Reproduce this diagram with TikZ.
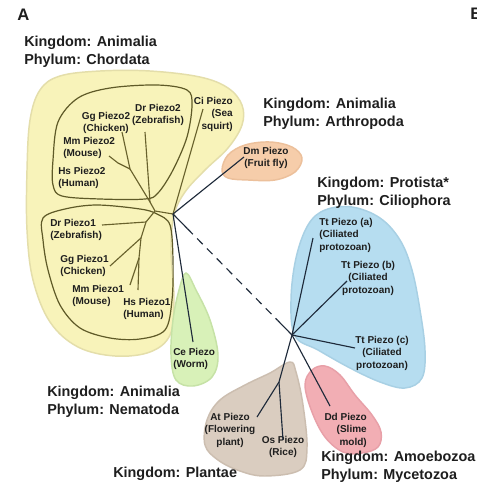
\documentclass[tikz,border=0pt]{standalone}
\usepackage{fontspec}
\setmainfont{Liberation Sans}
\usetikzlibrary{calc}
\definecolor{txt}{RGB}{30,30,30}
\definecolor{yfill}{RGB}{248,243,186}
\definecolor{yline}{RGB}{228,222,170}
\definecolor{loopc}{RGB}{95,90,40}
\definecolor{olivec}{RGB}{105,98,45}
\definecolor{treec}{RGB}{30,42,58}
\definecolor{ofill}{RGB}{246,205,170}
\definecolor{oline}{RGB}{236,192,155}
\definecolor{bfill}{RGB}{182,221,240}
\definecolor{bline}{RGB}{168,208,228}
\definecolor{gfill}{RGB}{216,241,184}
\definecolor{gline}{RGB}{198,226,166}
\definecolor{pfill}{RGB}{242,174,180}
\definecolor{pline}{RGB}{232,160,168}
\definecolor{tfill}{RGB}{218,205,192}
\definecolor{tline}{RGB}{204,190,176}
\begin{document}
\begin{tikzpicture}[x=0.75pt,y=-0.75pt,
  big/.style={font=\fontsize{10.8}{13.3}\selectfont\bfseries, text=txt, inner sep=0pt, align=left, anchor=north west},
  lab/.style={font=\fontsize{7.5}{9.2}\selectfont\bfseries, text=txt, inner sep=0pt},
  panel/.style={font=\fontsize{12.5}{15}\selectfont\bfseries, text=txt, inner sep=0pt, anchor=north west},
  region/.style={line width=1.1pt},
  loopline/.style={draw=loopc, line width=0.9pt},
  oln/.style={draw=olivec, line width=0.85pt},
  tln/.style={draw=treec, line width=0.85pt},
]
\useasboundingbox (0,0) rectangle (476,493);
\fill[white] (0,0) rectangle (476,493);

% ---------- regions ----------
\draw[region, draw=yline, fill=yfill] plot[smooth cycle, tension=0.6] coordinates {
 (30,120) (40,90) (60,76) (100,71) (150,71) (200,77) (228,88) (242,105) (242,125)
 (228,148) (205,170) (185,192) (174,215) (171,250) (174,300) (170,335) (150,352)
 (115,356) (78,347) (50,322) (33,280) (27,230) (27,170)};
\draw[region, draw=gline, fill=gfill] plot[smooth cycle, tension=0.6] coordinates {
 (186,273) (196,290) (210,320) (218,355) (212,377) (193,386) (176,380) (171,355) (173,320) (179,290)};
\draw[region, draw=oline, fill=ofill] plot[smooth cycle, tension=0.6] coordinates {
 (222,170) (228,155) (245,145) (270,142) (292,147) (302,158) (295,172) (275,180) (248,180) (228,178)};
\draw[region, draw=bline, fill=bfill] plot[smooth cycle, tension=0.6] coordinates {
 (295,336) (291,300) (296,258) (308,225) (325,210) (352,207) (380,218) (400,240) (412,270)
 (420,310) (425,350) (422,378) (405,388) (380,382) (350,368) (318,350)};
\draw[region, draw=pline, fill=pfill] plot[smooth cycle, tension=0.6] coordinates {
 (305,385) (312,370) (325,366) (340,375) (355,395) (372,415) (381,432) (378,447) (362,453) (343,452) (325,437) (312,412)};
\draw[region, draw=tline, fill=tfill] plot[smooth cycle, tension=0.6] coordinates {
 (290,362) (296,372) (303,405) (307,448) (300,470) (265,476) (240,471) (218,460) (205,445) (207,420) (220,400) (245,385) (270,373)};

% inner loops (Piezo2 / Piezo1)
\draw[loopline] plot[smooth cycle, tension=0.55] coordinates {
 (53,160) (58,122) (78,98) (110,88) (157,85) (187,90) (192,105) (187,137) (173,170) (158,193) (145,199) (100,199) (62,196) (53,185)};
\draw[loopline] plot[smooth cycle, tension=0.55] coordinates {
 (43,218) (65,209) (97,205) (140,209) (157,214) (170,225) (173,260) (172,300) (165,330) (140,339) (110,338) (80,328) (60,305) (48,270) (43,240)};

% ---------- labels ----------
\node[panel] (pA) at (17,9) {A};
\node[panel] (pB) at (470,8) {B};
\node[big] (chord) at (24,36) {Kingdom: Animalia\\Phylum: Chordata};
\node[big] (arth) at (263,98) {Kingdom: Animalia\\Phylum: Arthropoda};
\node[big] (prot) at (317,177) {Kingdom: Protista*\\Phylum: Ciliophora};
\node[big] (nema) at (47,386) {Kingdom: Animalia\\Phylum: Nematoda};
\node[big] (plan) at (113,467) {Kingdom: Plantae};
\node[big] (amoe) at (321,451) {Kingdom: Amoebozoa\\Phylum: Mycetozoa};

\node[lab, anchor=north, align=center] (ldrtwo) at (158,104) {Dr Piezo2\\(Zebrafish)};
\node[lab, anchor=north, align=center] (lggtwo) at (106,112) {Gg Piezo2\\(Chicken)};
\node[lab, anchor=north east, align=right] (lci) at (233,97) {Ci Piezo\\(Sea\\squirt)};
\node[lab, anchor=north west, align=left] (lmmtwo) at (63,137) {Mm Piezo2\\(Mouse)};
\node[lab, anchor=north west, align=left] (lhstwo) at (58,167) {Hs Piezo2\\(Human)};
\node[lab, anchor=north west, align=left] (ldrone) at (50,219) {Dr Piezo1\\(Zebrafish)};
\node[lab, anchor=north west, align=left] (lggone) at (60,255) {Gg Piezo1\\(Chicken)};
\node[lab, anchor=north west, align=left] (lmmone) at (72,285) {Mm Piezo1\\(Mouse)};
\node[lab, anchor=north west, align=left] (lhsone) at (123,298) {Hs Piezo1\\(Human)};
\node[lab, anchor=north west, align=left] (lce) at (173,348) {Ce Piezo\\(Worm)};
\node[lab, anchor=north, align=center] (ldm) at (266,147) {Dm Piezo\\(Fruit fly)};
\node[lab, anchor=north west, align=left] (lta) at (319,218) {Tt Piezo (a)\\(Ciliated\\protozoan)};
\node[lab, anchor=north, align=center] (ltb) at (368,261) {Tt Piezo (b)\\(Ciliated\\protozoan)};
\node[lab, anchor=north, align=center] (ltc) at (382,336) {Tt Piezo (c)\\(Ciliated\\protozoan)};
\node[lab, anchor=north east, align=right] (ldd) at (367,413) {Dd Piezo\\(Slime\\mold)};
\node[lab, anchor=north, align=center] (lat) at (230,413) {At Piezo\\(Flowering\\plant)};
\node[lab, anchor=north, align=center] (los) at (283,436) {Os Piezo\\(Rice)};

% ---------- tree coordinates ----------
\coordinate (R) at (173,214);
\coordinate (V) at (155,211);
\coordinate (P2) at (150,202);
\coordinate (G) at (130,169);
\coordinate (M) at (118,163);
\coordinate (tDr2) at (145,132);
\coordinate (tGg2) at (122,132);
\coordinate (tMm2) at (109,156);
\coordinate (tCi) at (203,109);
\coordinate (a1) at (146,222);
\coordinate (b1) at (141,238);
\coordinate (c1) at (139,258);
\coordinate (tDr1) at (102,225);
\coordinate (tGg1) at (110,266);
\coordinate (tMm1) at (130,285);
\coordinate (tHs1) at (138,290);
\coordinate (tDm) at (244,157);
\coordinate (tCe) at (193,342);
\coordinate (N) at (292,335);
\coordinate (S1) at ($(R)!0.12!(N)$);
\coordinate (S2) at ($(R)!0.88!(N)$);
\coordinate (tTa) at (313,238);
\coordinate (tTb) at (347,281);
\coordinate (tTc) at (355,348);
\coordinate (tDd) at (330,406);
\coordinate (Pl) at (279,382);
\coordinate (tAt) at (257,417);
\coordinate (tOs) at (283,440);

% chordate subtree (olive)
\draw[oln] (R) -- (V) -- (P2) -- (tDr2);
\draw[oln] (P2) -- (G) -- (tGg2);
\draw[oln] (G) -- (M) -- (tMm2);
\draw[oln] (R) -- (tCi);
\draw[oln] (V) -- (a1) -- (b1) -- (c1) -- (tHs1);
\draw[oln] (c1) -- (tMm1);
\draw[oln] (a1) -- (tDr1);
\draw[oln] (b1) -- (tGg1);

% outer tree (dark)
\draw[tln] (R) -- (tDm);
\draw[tln] (R) -- (tCe);
\draw[tln] (R) -- (S1);
\draw[tln, dash pattern=on 6pt off 4.5pt] (S1) -- (S2);
\draw[tln] (S2) -- (N);
\draw[tln] (N) -- (tTa);
\draw[tln] (N) -- (tTb);
\draw[tln] (N) -- (tTc);
\draw[tln] (N) -- (tDd);
\draw[tln] (N) -- (Pl) -- (tAt);
\draw[tln] (Pl) -- (tOs);
\end{tikzpicture}
\end{document}
